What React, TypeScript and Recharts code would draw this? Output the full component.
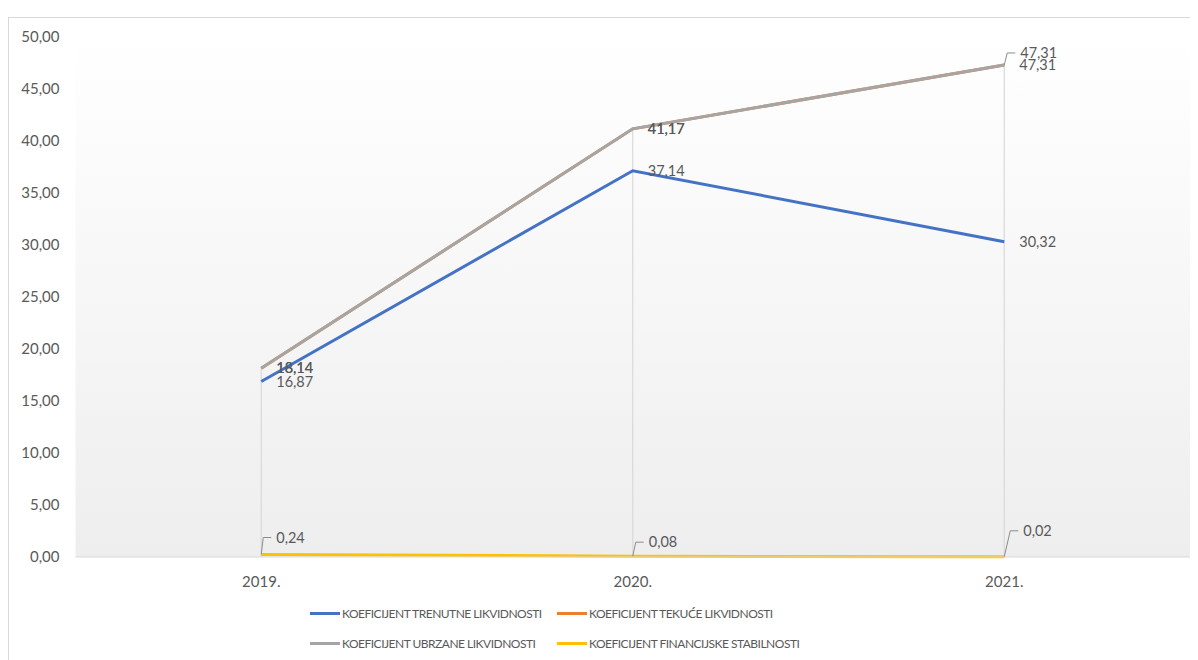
import { CartesianGrid, LabelList, Legend, Line, LineChart, ReferenceLine, XAxis, YAxis } from "recharts"

const years = ["2019.", "2020.", "2021."]
const trenutne = [16.87, 37.14, 30.32]
const tekuce = [18.14, 41.17, 47.31]
const ubrzane = [18.14, 41.17, 47.31]
const financijske = [0.24, 0.08, 0.02]
const yTicks = [0, 5, 10, 15, 20, 25, 30, 35, 40, 45, 50]

const series = [
  { key: "trenutne", name: "KOEFICIJENT TRENUTNE LIKVIDNOSTI", color: "#4472C4" },
  { key: "tekuce", name: "KOEFICIJENT TEKUĆE LIKVIDNOSTI", color: "#ED7D31" },
  { key: "ubrzane", name: "KOEFICIJENT UBRZANE LIKVIDNOSTI", color: "#A5A5A5" },
  { key: "financijske", name: "KOEFICIJENT FINANCIJSKE STABILNOSTI", color: "#FFC000" },
]

const data = years.map((year, i) => ({
  year,
  trenutne: trenutne[i],
  tekuce: tekuce[i],
  ubrzane: ubrzane[i],
  financijske: financijske[i],
}))

// label placement (Excel moved a few labels and drew leader lines)
const labelShift: Record<string, { dx: number; dy: number; leader?: boolean }[]> = {
  tekuce: [{ dx: 15, dy: 0 }, { dx: 15, dy: 0 }, { dx: 16, dy: -12, leader: true }],
  financijske: [
    { dx: 15, dy: -17, leader: true },
    { dx: 16, dy: -14, leader: true },
    { dx: 19, dy: -26, leader: true },
  ],
}

const fmt = (v: number) => v.toFixed(2).replace(".", ",")
const textColor = "#595959"
const font = "Lato, 'Noto Sans', sans-serif"

function DataLabel(props: any) {
  const { value, index, seriesKey } = props
  const x = props.viewBox?.x ?? props.x
  const y = props.viewBox?.y ?? props.y
  const shift = labelShift[seriesKey]?.[index] ?? { dx: 15, dy: 0 }
  const tx = x + shift.dx
  const ty = y + shift.dy
  return (
    <g>
      {shift.leader && (
        <path
          d={`M${x},${y} L${tx - 13},${ty} L${tx - 5},${ty}`}
          stroke="#8c8c8c"
          strokeWidth={1}
          fill="none"
        />
      )}
      <text x={tx} y={ty} dy="0.35em" fill={textColor} fontSize={14.5} fontFamily={font}>
        {fmt(Number(value))}
      </text>
    </g>
  )
}

function ChartLegend() {
  return (
    <div
      style={{
        height: 60,
        paddingLeft: 302,
        display: "grid",
        gridTemplateColumns: "247px 280px",
        gridAutoRows: "30px",
        fontFamily: font,
        fontSize: 12,
        letterSpacing: -0.5,
        color: textColor,
        boxSizing: "border-box",
      }}
    >
      {series.map((s) => (
        <div key={s.key} style={{ display: "flex", alignItems: "center", whiteSpace: "nowrap" }}>
          <span style={{ display: "inline-block", width: 30, height: 3, background: s.color, marginRight: 2 }} />
          <span>{s.name}</span>
        </div>
      ))}
    </div>
  )
}

export default function App() {
  return (
    <div style={{ position: "relative", width: 1190, height: 652, overflow: "hidden" }}>
      <div
        style={{
          position: "absolute",
          left: 0,
          top: 9,
          width: 1300,
          height: 800,
          border: "1.5px solid #d9d9d9",
          boxSizing: "border-box",
        }}
      />
      <div style={{ position: "absolute", left: 0, top: 0 }}>
        <LineChart width={1190} height={652} data={data} margin={{ top: 29, right: 8, bottom: 13, left: 7.5 }}>
          <defs>
            <linearGradient id="plotBg" x1="0" y1="0" x2="0" y2="1">
              <stop offset="0%" stopColor="#ffffff" />
              <stop offset="100%" stopColor="#eeeeee" />
            </linearGradient>
          </defs>
          <CartesianGrid fill="url(#plotBg)" stroke="none" horizontal={false} vertical={false} />
          <XAxis
            dataKey="year"
            height={30}
            padding={{ left: 185.75, right: 185.75 }}
            axisLine={{ stroke: "#d9d9d9" }}
            tickLine={false}
            tickMargin={13}
            tick={{ fill: textColor, fontSize: 15, fontFamily: font }}
          />
          <YAxis
            width={60}
            domain={[0, 50]}
            ticks={yTicks}
            axisLine={false}
            tickLine={false}
            tickMargin={10}
            tickFormatter={fmt}
            tick={{ fill: textColor, fontSize: 15, fontFamily: font }}
          />
          {data.map((d) => (
            <ReferenceLine
              key={d.year}
              segment={[
                { x: d.year, y: 0 },
                { x: d.year, y: Math.max(d.trenutne, d.tekuce, d.ubrzane, d.financijske) },
              ]}
              stroke="#d9d9d9"
              strokeWidth={1.2}
            />
          ))}
          {series.map((s) => (
            <Line
              key={s.key}
              type="linear"
              dataKey={s.key}
              name={s.name}
              stroke={s.color}
              strokeWidth={3}
              dot={false}
              activeDot={false}
              isAnimationActive={false}
            >
              <LabelList dataKey={s.key} content={(p: any) => <DataLabel {...p} seriesKey={s.key} />} />
            </Line>
          ))}
          <Legend
            verticalAlign="bottom"
            content={() => <ChartLegend />}
            wrapperStyle={{ top: 590, left: 0, bottom: "auto", width: 1190, height: 60 }}
          />
        </LineChart>
      </div>
    </div>
  )
}
